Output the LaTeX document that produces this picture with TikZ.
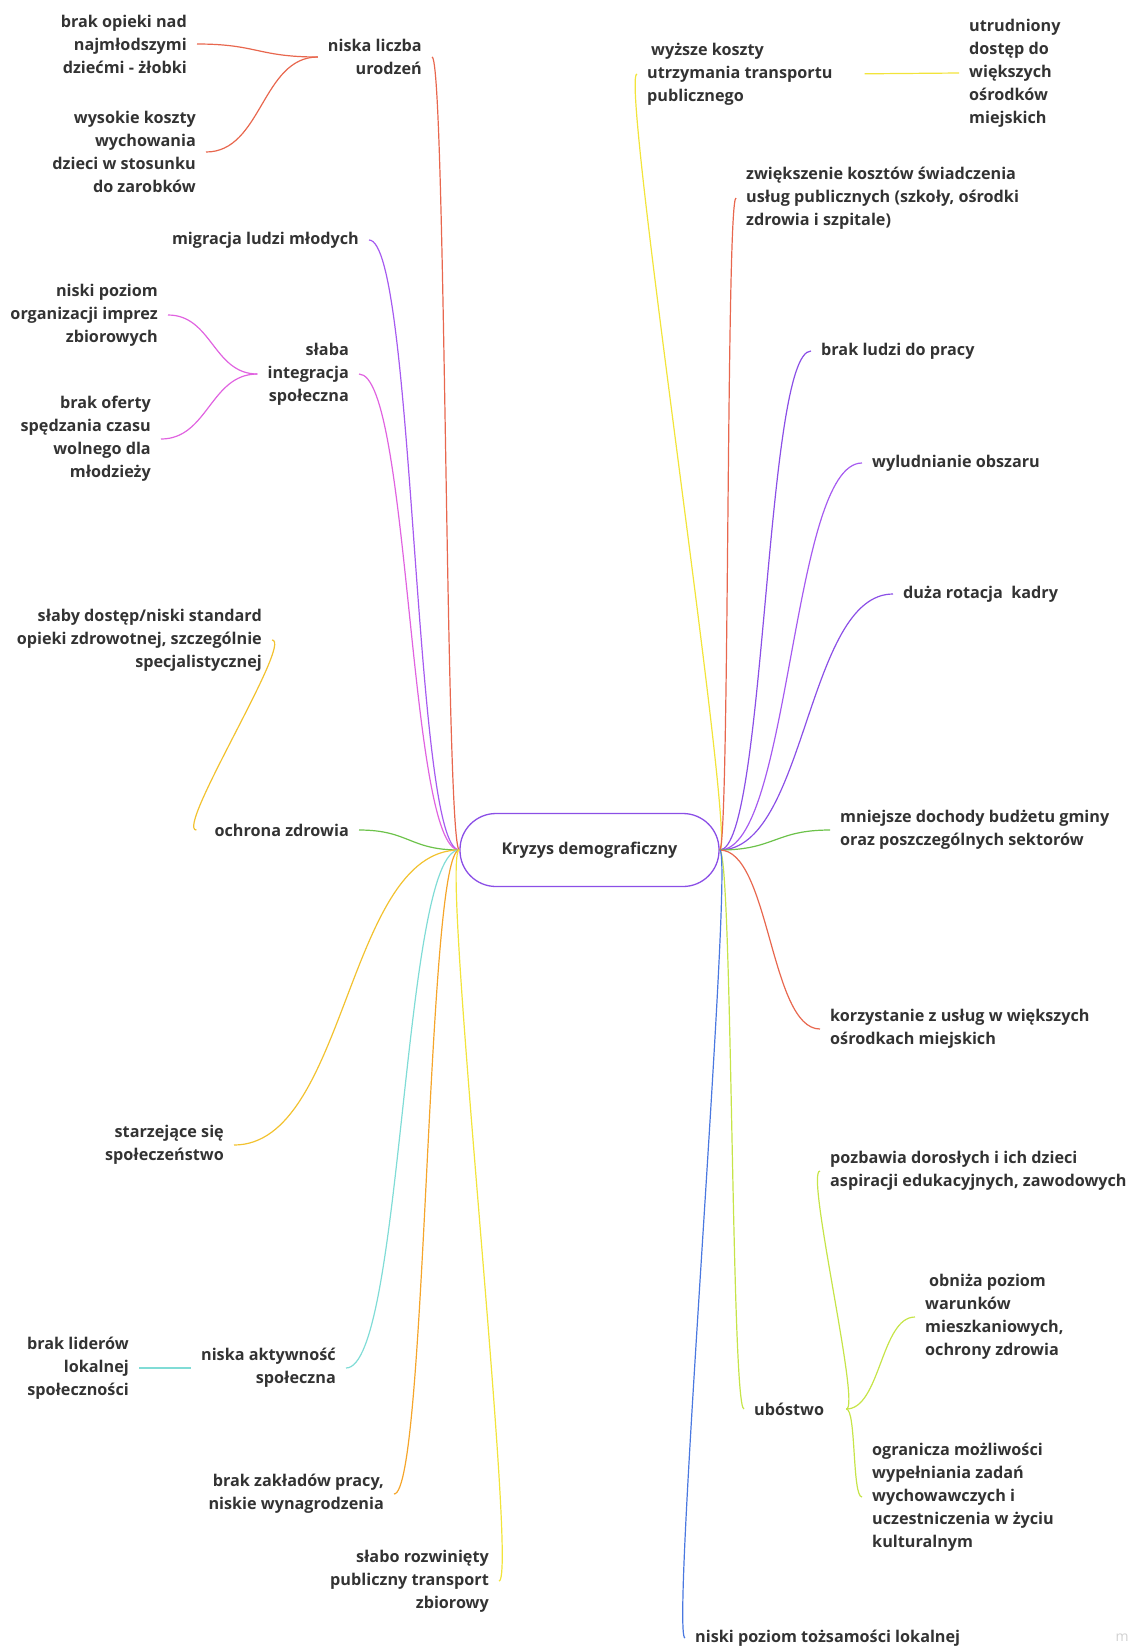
\documentclass[tikz,border=0pt]{standalone}
\usepackage{fontspec}
\setmainfont{Open Sans}
\usepackage{tikz}
\usetikzlibrary{positioning}

\definecolor{txt}{HTML}{333333}
\definecolor{redor}{HTML}{E8674E}
\definecolor{purpA}{HTML}{8B4FE6}
\definecolor{purpB}{HTML}{A65BF0}
\definecolor{pinkm}{HTML}{E063E0}
\definecolor{greenl}{HTML}{6CC24A}
\definecolor{goldy}{HTML}{F2C230}
\definecolor{cyanl}{HTML}{80DCD6}
\definecolor{orangel}{HTML}{F5A52A}
\definecolor{yellowb}{HTML}{F2E43A}
\definecolor{limeg}{HTML}{C6E448}
\definecolor{bluel}{HTML}{4A78E0}

\begin{document}
\begin{tikzpicture}[x=1pt,y=-1pt,
  topic/.style={font=\fontsize{16.2}{23}\selectfont\bfseries, text=txt, inner xsep=10pt, inner ysep=2pt},
  lnode/.style={topic, align=right, anchor=east},
  rnode/.style={topic, align=left, anchor=west},
  crisis/.style={draw=purpA, line width=1.3pt, rounded corners=36pt, minimum width=259pt, minimum height=73pt,
    font=\fontsize{16.2}{23}\selectfont\bfseries, text=txt},
  link/.style={line width=1.2pt},
  lbr/.style={to path={.. controls +(-#1,0) and +(#1,0) .. (\tikztotarget)}},
  rbr/.style={to path={.. controls +(#1,0) and +(-#1,0) .. (\tikztotarget)}},
]
\useasboundingbox (0,0) rectangle (1132,1650);

% Centre
\node[crisis] (crisis) at (589.5,850) {Kryzys demograficzny};

% Left side
\node[lnode] (births) at (432,57) {niska liczba\\urodzeń};
\node[lnode] (nursery) at (197,44) {brak opieki nad\\najmłodszymi\\dziećmi - żłobki};
\node[lnode] (costs) at (206,152) {wysokie koszty\\wychowania\\dzieci w stosunku\\do zarobków};
\node[lnode] (migr) at (369,240) {migracja ludzi młodych};
\node[lnode] (integr) at (359,374) {słaba\\integracja\\społeczna};
\node[lnode] (events) at (168,315) {niski poziom\\organizacji imprez\\zbiorowych};
\node[lnode] (youth) at (161,439) {brak oferty\\spędzania czasu\\wolnego dla\\młodzieży};
\node[lnode] (health) at (359,830) {ochrona zdrowia};
\node[lnode] (access) at (272,640) {słaby dostęp/niski standard\\opieki zdrowotnej, szczególnie\\specjalistycznej};
\node[lnode] (aging) at (234,1145) {starzejące się\\społeczeństwo};
\node[lnode] (activ) at (346,1368) {niska aktywność\\społeczna};
\node[lnode] (leaders) at (139,1368) {brak liderów\\lokalnej\\społeczności};
\node[lnode] (jobs) at (394,1494) {brak zakładów pracy,\\niskie wynagrodzenia};
\node[lnode] (transp) at (499,1581) {słabo rozwinięty\\publiczny transport\\zbiorowy};

% Right side
\node[rnode] (tcost) at (637,74) {\hspace*{4pt}wyższe koszty\\utrzymania transportu\\publicznego};
\node[rnode] (cities) at (959,73) {utrudniony\\dostęp do\\większych\\ośrodków\\miejskich};
\node[rnode] (services) at (736,198) {zwiększenie kosztów świadczenia\\usług publicznych (szkoły, ośrodki\\zdrowia i szpitale)};
\node[rnode] (workers) at (811,351) {brak ludzi do pracy};
\node[rnode] (depop) at (862,463) {wyludnianie obszaru};
\node[rnode] (staff) at (893,594) {duża rotacja\ \ kadry};
\node[rnode] (budget) at (830,830) {mniejsze dochody budżetu gminy\\oraz poszczególnych sektorów};
\node[rnode] (usage) at (820,1029) {korzystanie z usług w większych\\ośrodkach miejskich};
\node[rnode] (poverty) at (744,1409) {ubóstwo};
\node[rnode] (aspir) at (820,1171) {pozbawia dorosłych i ich dzieci\\aspiracji edukacyjnych, zawodowych};
\node[rnode] (living) at (915,1317) {\hspace*{4pt}obniża poziom\\warunków\\mieszkaniowych,\\ochrony zdrowia};
\node[rnode] (educ) at (862,1497) {ogranicza możliwości\\wypełniania zadań\\wychowawczych i\\uczestniczenia w życiu\\kulturalnym};
\node[rnode] (ident) at (685,1638) {niski poziom tożsamości lokalnej};

\node[font=\fontsize{14}{15}\selectfont, text=black!18] (mark) at (1122,1638) {m};

% Lines, left
\draw[link, redor] (crisis.west) to[lbr=14] (births.east);
\draw[link, redor] (births.west) to[lbr=60] (nursery.east);
\draw[link, redor] (births.west) to[lbr=56] (costs.east);
\draw[link, purpB] (crisis.west) to[lbr=46] (migr.east);
\draw[link, pinkm] (crisis.west) to[lbr=51] (integr.east);
\draw[link, pinkm] (integr.west) to[lbr=44] (events.east);
\draw[link, pinkm] (integr.west) to[lbr=47] (youth.east);
\draw[link, greenl] (crisis.west) to[lbr=50] (health.east);
\draw[link, goldy] ([xshift=-8pt]health.west) to[lbr=22] (access.east);
\draw[link, goldy] (crisis.west) to[lbr=113] (aging.east);
\draw[link, cyanl] (crisis.west) to[lbr=57] (activ.east);
\draw[link, cyanl] (activ.west) -- (leaders.east);
\draw[link, orangel] (crisis.west) to[lbr=33] (jobs.east);
\draw[link, yellowb] (crisis.west) to[lbr=20] (transp.east);

% Lines, right
\draw[link, yellowb] (crisis.east) to[rbr=18] (tcost.west);
\draw[link, yellowb, shorten <=22pt] (tcost.east) -- (cities.west);
\draw[link, redor] (crisis.east) to[rbr=10] (services.west);
\draw[link, purpA] (crisis.east) to[rbr=46] (workers.west);
\draw[link, purpB] (crisis.east) to[rbr=71] (depop.west);
\draw[link, purpA] (crisis.east) to[rbr=87] (staff.west);
\draw[link, greenl] (crisis.east) to[rbr=55] (budget.west);
\draw[link, redor] (crisis.east) to[rbr=50] (usage.west);
\draw[link, limeg] (crisis.east) to[rbr=13] (poverty.west);
\draw[link, limeg] ([xshift=12pt]poverty.east) to[rbr=15] (aspir.west);
\draw[link, limeg] ([xshift=12pt]poverty.east) to[rbr=34] (living.west);
\draw[link, limeg] ([xshift=12pt]poverty.east) to[rbr=10] (educ.west);
\draw[link, bluel] (crisis.east) to[rbr=15] (ident.west);

\end{tikzpicture}
\end{document}
